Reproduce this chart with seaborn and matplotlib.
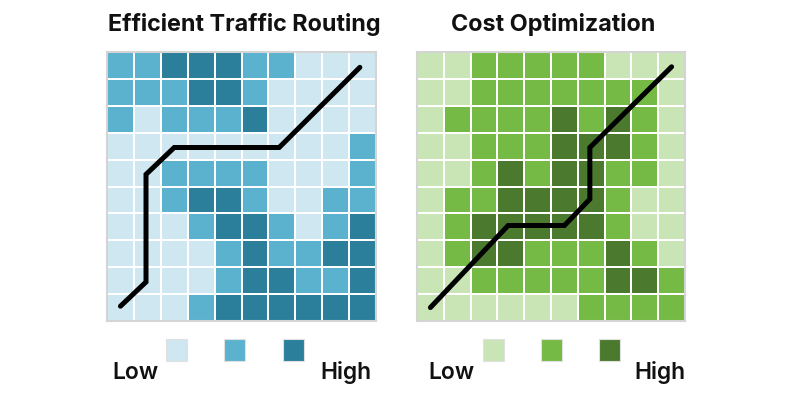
import numpy as np
import pandas as pd
import matplotlib
matplotlib.use("Agg")
import matplotlib.pyplot as plt
from matplotlib.colors import ListedColormap
from matplotlib.patches import Rectangle
import seaborn as sns

# ---- data ----
titles = ["Efficient Traffic Routing", "Cost Optimization"]
legend_labels = ["Low", "High"]

# 0 = low, 1 = mid, 2 = high
traffic_grid = [
    [1, 1, 2, 2, 2, 1, 1, 0, 0, 0],
    [1, 1, 1, 2, 2, 1, 0, 0, 0, 0],
    [1, 0, 1, 1, 1, 2, 0, 0, 0, 0],
    [0, 0, 0, 0, 0, 0, 0, 0, 0, 1],
    [0, 0, 1, 1, 1, 1, 0, 0, 0, 1],
    [0, 0, 1, 2, 2, 1, 0, 0, 1, 1],
    [0, 0, 0, 1, 2, 2, 1, 0, 1, 2],
    [0, 0, 0, 0, 1, 2, 1, 1, 2, 2],
    [0, 0, 0, 0, 1, 2, 2, 1, 1, 2],
    [0, 0, 0, 1, 2, 2, 2, 2, 2, 2],
]
cost_grid = [
    [0, 0, 1, 1, 1, 1, 1, 0, 0, 0],
    [0, 0, 1, 1, 1, 1, 1, 1, 1, 0],
    [0, 1, 1, 1, 1, 2, 1, 2, 1, 0],
    [0, 0, 1, 1, 1, 2, 2, 2, 1, 0],
    [0, 0, 1, 2, 1, 2, 2, 1, 1, 0],
    [0, 1, 1, 2, 2, 2, 2, 1, 0, 0],
    [0, 1, 2, 2, 2, 2, 2, 1, 0, 0],
    [0, 1, 2, 2, 1, 1, 1, 2, 1, 0],
    [0, 0, 1, 1, 1, 1, 1, 2, 2, 1],
    [0, 0, 0, 0, 0, 0, 1, 1, 1, 1],
]
# route paths in grid units (column, row from top)
traffic_route_x = [0.5, 1.45, 1.45, 2.5, 6.4, 9.4]
traffic_route_y = [9.45, 8.55, 4.55, 3.55, 3.55, 0.57]
cost_route_x = [0.5, 3.4, 5.5, 6.45, 6.45, 9.5]
cost_route_y = [9.5, 6.45, 6.45, 5.47, 3.55, 0.55]

blue_colors = ["#cfe7f0", "#5bb2cf", "#2c7f9b"]
green_colors = ["#c9e5b6", "#75ba44", "#4b7a2e"]

# ---- figure ----
sns.set_theme(style="white")
plt.rcParams["font.family"] = ["Inter", "DejaVu Sans"]
fig = plt.figure(figsize=(8, 4), dpi=100)
fig.patch.set_facecolor("white")

panels = [
    (traffic_grid, blue_colors, traffic_route_x, traffic_route_y, 107, 269),
    (cost_grid, green_colors, cost_route_x, cost_route_y, 417, 268),
]
legend_sq = [[166, 224, 283], [483, 541, 599]]
low_x = [112, 428]
high_x = [371, 686]

for i, (grid, cols, rx, ry, x0, w) in enumerate(panels):
    ax = fig.add_axes([x0 / 800, 1 - 321 / 400, w / 800, 269 / 400])
    df = pd.DataFrame(grid)
    sns.heatmap(df, ax=ax, cmap=ListedColormap(cols), vmin=-0.5, vmax=2.5,
                cbar=False, linewidths=1.2, linecolor="white", square=False,
                xticklabels=False, yticklabels=False)
    ax.plot(rx, ry, color="black", lw=3.6, solid_capstyle="round",
            solid_joinstyle="miter")
    for s in ax.spines.values():
        s.set_visible(True)
        s.set_color("#d4d4d4")
        s.set_linewidth(1.5)
    cx = (x0 + w / 2) / 800 + 0.003
    fig.text(cx, 1 - 25 / 400, titles[i], ha="center", va="center",
             fontsize=16.8, fontweight="bold", color="#111111")
    for k, sx in enumerate(legend_sq[i]):
        fig.add_artist(Rectangle((sx / 800, 1 - 361 / 400), 21 / 800, 22 / 400,
                                 transform=fig.transFigure, facecolor=cols[k],
                                 edgecolor="#e0e0e0", lw=0.8))
    fig.text(low_x[i] / 800, 1 - 373 / 400, legend_labels[0], ha="left",
             va="center", fontsize=16.5, fontweight="semibold", color="#111111")
    fig.text(high_x[i] / 800, 1 - 373 / 400, legend_labels[1], ha="right",
             va="center", fontsize=16.5, fontweight="semibold", color="#111111")

fig.savefig("out.png", dpi=100, facecolor="white")
